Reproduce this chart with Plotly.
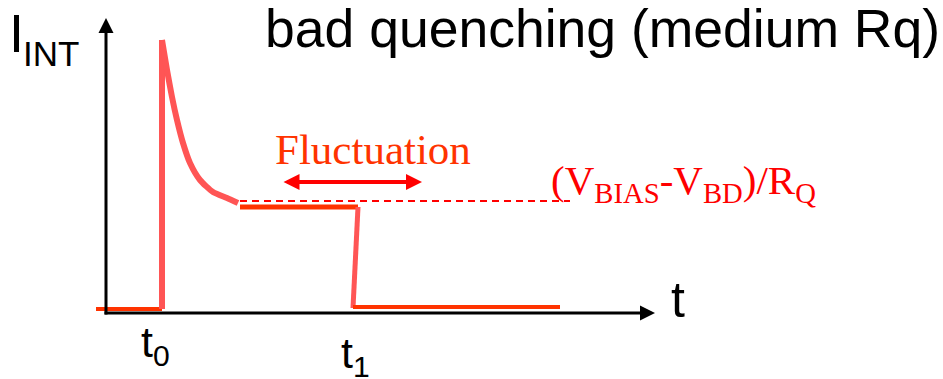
import plotly.graph_objects as go

# ---- diagram data (time t, current I in arbitrary units; axis origin at 0,0) ----
pre_t = [-10, 56]
pre_I = [4, 4]
spike_t = [56, 56]
spike_I = [4, 273]
decay_t = [56, 61, 66, 71, 77, 84, 94, 107, 121, 132]
decay_I = [273, 243, 216, 193, 170, 150, 133, 121, 115, 110]
plateau_t = [134, 252]
plateau_I = [106, 106]
drop_t = [252, 247]
drop_I = [106, 5]
post_t = [247, 454]
post_I = [6, 6]
level_t = [134, 464]
level_I = [112, 112]
fluct_t = [176, 316]
fluct_I = [131, 131]

W, H = 943, 379
OX, OY = 106, 313          # pixel position of the axis origin


def px(x):
    return x - OX


def py(y):
    return OY - y


SALMON = "#FF5555"
ORANGE = "#FF3300"
RED = "#FF0000"

fig = go.Figure()


def seg(t, i, color, width, dash=None, shape="linear", smoothing=None):
    line = dict(color=color, width=width, dash=dash, shape=shape)
    if smoothing is not None:
        line["smoothing"] = smoothing
    fig.add_trace(go.Scatter(x=t, y=i, mode="lines", line=line,
                             hoverinfo="skip", showlegend=False))


seg(level_t, level_I, RED, 2, dash="7px,5px")
seg(pre_t, pre_I, ORANGE, 4)
seg(spike_t, spike_I, SALMON, 6)
seg(decay_t, decay_I, SALMON, 6, shape="spline", smoothing=0.6)
seg(plateau_t, plateau_I, ORANGE, 5)
seg(drop_t, drop_I, SALMON, 5)
seg(post_t, post_I, ORANGE, 4)

ann = []
# axes as arrows
ann.append(dict(x=0, y=py(18), ax=0, ay=py(316), xref="x", yref="y", axref="x", ayref="y",
                text="", showarrow=True, arrowhead=2, arrowwidth=3, arrowsize=1, arrowcolor="black"))
ann.append(dict(x=px(655), y=0, ax=px(103), ay=0, xref="x", yref="y", axref="x", ayref="y",
                text="", showarrow=True, arrowhead=2, arrowwidth=3, arrowsize=1, arrowcolor="black"))
# fluctuation double arrow
ann.append(dict(x=fluct_t[1], y=fluct_I[1], ax=fluct_t[0], ay=fluct_I[0], xref="x", yref="y",
                axref="x", ayref="y", text="", showarrow=True, arrowside="end+start",
                arrowhead=2, startarrowhead=2, arrowwidth=4, arrowsize=0.8, startarrowsize=0.8,
                arrowcolor=RED))


def label(text, x, y, size, color="black", family="Arial, Liberation Sans, sans-serif", xanchor="left"):
    ann.append(dict(x=x, y=y, xref="x", yref="y", text=text, showarrow=False,
                    xanchor=xanchor, yanchor="middle", borderpad=0,
                    font=dict(size=size, color=color, family=family)))


SERIF = "Times New Roman, Liberation Serif, serif"
label("bad quenching (medium Rq)", px(264), py(28), 53.5)
label("I", px(8), py(33), 54)
label("INT", px(22), py(53), 35)
label("t", px(670), py(300), 50)
label("t<sub>0</sub>", px(140), py(345), 43)
label("t<sub>1</sub>", px(340), py(356), 43)
label("Fluctuation", px(274), py(149), 43, color=ORANGE, family=SERIF)
label("(V<sub>BIAS</sub>-V<sub>BD</sub>)/R<sub>Q</sub>", px(550), py(183), 41, color=RED, family=SERIF)

fig.update_layout(
    width=W, height=H, margin=dict(l=0, r=0, t=0, b=0),
    paper_bgcolor="white", plot_bgcolor="white",
    xaxis=dict(range=[-OX, W - OX], visible=False, fixedrange=True),
    yaxis=dict(range=[OY - H, OY], visible=False, fixedrange=True),
    annotations=ann,
)

fig.write_html("out.html", config={"displayModeBar": False},
               post_script="document.body.style.margin='0';document.body.style.overflow='hidden';")
